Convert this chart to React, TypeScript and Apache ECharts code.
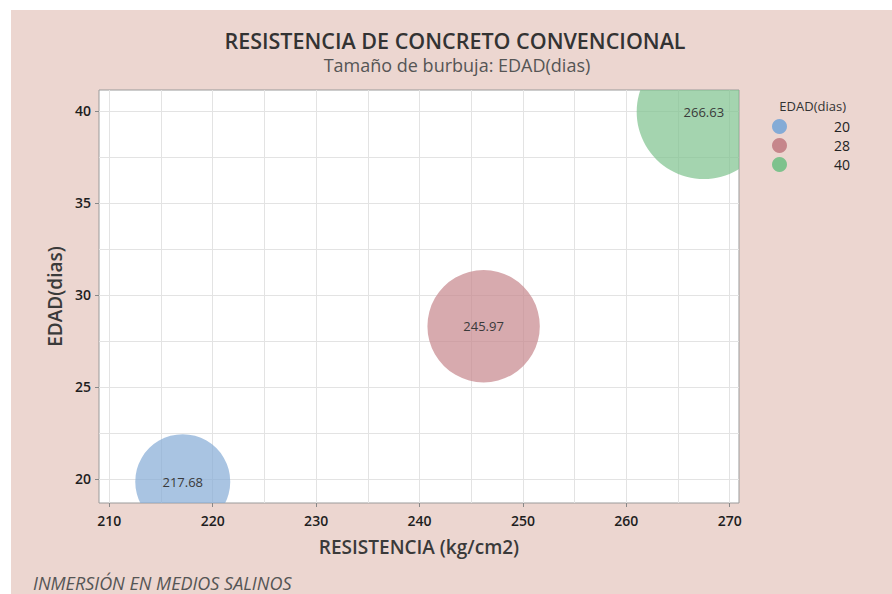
import React, { useEffect, useRef } from "react";
import * as echarts from "echarts";

// ---- data ----
const categories = ["20", "28", "40"]; // EDAD(dias) groups
const resistencia = [217.1, 246.2, 267.5]; // x values (kg/cm2)
const edadY = [19.85, 28.3, 39.95]; // y values (dias)
const edadSize = [20, 28, 40]; // bubble size variable
const etiquetas = ["217.68", "245.97", "266.63"]; // bubble labels
const colores = ["#84abd6", "#c6868b", "#7ec28d"];
const xTicks = [210, 220, 230, 240, 250, 260, 270];
const yTicks = [20, 25, 30, 35, 40];
const xMinor = [210, 215, 220, 225, 230, 235, 240, 245, 250, 255, 260, 265, 270];
const yMinor = [20, 22.5, 25, 27.5, 30, 32.5, 35, 37.5, 40];

const FONT = "'Open Sans', 'Noto Sans', sans-serif";

export default function App() {
  const ref = useRef<HTMLDivElement>(null);
  useEffect(() => {
    if (!ref.current) return;
    const chart = echarts.init(ref.current, undefined, { renderer: "svg" });
    const isXTick = (v: number) => xTicks.some((t) => Math.abs(t - v) < 1e-6);
    const isYTick = (v: number) => yTicks.some((t) => Math.abs(t - v) < 1e-6);
    const xMin = 209, xMax = 270.9, yMin = 18.69, yMax = 41.14;
    const sizeK = 21.24;

    const series = categories.map((c, i) => ({
      type: "custom",
      name: c,
      xAxisIndex: 0,
      yAxisIndex: 0,
      clip: true,
      data: [[resistencia[i], edadY[i], edadSize[i]]],
      itemStyle: { color: colores[i] },
      renderItem: (params: any, api: any) => {
        const p = api.coord([api.value(0), api.value(1)]);
        const r = (sizeK * Math.sqrt(api.value(2))) / 2;
        return {
          type: "group",
          children: [
            {
              type: "circle",
              shape: { cx: p[0], cy: p[1], r },
              style: { fill: colores[i], opacity: 0.7 },
            },
            {
              type: "text",
              x: p[0],
              y: p[1],
              style: {
                text: etiquetas[i],
                align: "center",
                verticalAlign: "middle",
                fill: "#3a3a3a",
                fontSize: 13,
                fontFamily: FONT,
              },
            },
          ],
        };
      },
    }));

    chart.setOption({
      animation: false,
      textStyle: { fontFamily: FONT },
      grid: {
        left: 99,
        right: 153,
        top: 90,
        bottom: 91,
        show: true,
        backgroundColor: "#ffffff",
        borderColor: "#9a9a9a",
        borderWidth: 1,
      },
      legend: {
        data: categories,
        orient: "vertical",
        left: 767,
        top: 114,
        itemWidth: 15,
        itemHeight: 15,
        itemGap: 4,
        icon: "circle",
        itemStyle: { opacity: 1 },
        formatter: "{v|{name}}",
        textStyle: {
          rich: { v: { width: 58, align: "right", fontSize: 14, color: "#222", fontFamily: FONT } },
        },
      },
      xAxis: [
        {
          type: "value",
          min: xMin,
          max: xMax,
          splitNumber: 6,
          minInterval: 10,
          maxInterval: 10,
          name: "RESISTENCIA (kg/cm2)",
          nameLocation: "middle",
          nameGap: 34,
          nameTextStyle: { fontSize: 19, color: "#3a3a3a", fontWeight: 600, fontFamily: FONT },
          axisLine: { show: false },
          axisTick: { show: true, length: 4, lineStyle: { color: "#888" }, customValues: xTicks },
          axisLabel: {
            fontSize: 14,
            fontWeight: 600,
            color: "#1e1e1e",
            margin: 10,
            customValues: xTicks,
            formatter: (v: number) => (isXTick(v) ? String(Math.round(v)) : ""),
          },
          splitLine: { show: false },
        },
        {
          type: "value",
          min: xMin,
          max: xMax,
          splitNumber: 12,
          minInterval: 5,
          maxInterval: 5,
          position: "bottom",
          axisLine: { show: false },
          axisTick: { show: false, customValues: xMinor },
          axisLabel: { show: false },
          splitLine: { show: true, lineStyle: { color: "#e3e3e3" } },
        },
      ],
      yAxis: [
        {
          type: "value",
          min: yMin,
          max: yMax,
          splitNumber: 4,
          minInterval: 5,
          maxInterval: 5,
          name: "EDAD(dias)",
          nameLocation: "middle",
          nameGap: 35,
          nameTextStyle: { fontSize: 19, color: "#3a3a3a", fontWeight: 600, fontFamily: FONT },
          axisLine: { show: false },
          axisTick: { show: true, length: 4, lineStyle: { color: "#888" }, customValues: yTicks },
          axisLabel: {
            fontSize: 14,
            fontWeight: 600,
            color: "#1e1e1e",
            margin: 8,
            customValues: yTicks,
            formatter: (v: number) => (isYTick(v) ? String(Math.round(v)) : ""),
          },
          splitLine: { show: false },
        },
        {
          type: "value",
          min: yMin,
          max: yMax,
          splitNumber: 9,
          minInterval: 2.5,
          maxInterval: 2.5,
          position: "left",
          axisLine: { show: false },
          axisTick: { show: false, customValues: yMinor },
          axisLabel: { show: false },
          splitLine: { show: true, lineStyle: { color: "#e3e3e3" } },
        },
      ],
      graphic: [
        {
          type: "text",
          x: 455,
          y: 40,
          style: {
            text: "RESISTENCIA DE CONCRETO CONVENCIONAL",
            align: "center",
            verticalAlign: "middle",
            fontSize: 21.5,
            fontWeight: 600,
            fill: "#333",
            fontFamily: FONT,
          },
        },
        {
          type: "text",
          x: 457,
          y: 65,
          style: {
            text: "Tamaño de burbuja: EDAD(dias)",
            align: "center",
            verticalAlign: "middle",
            fontSize: 18,
            fill: "#555",
            fontFamily: FONT,
          },
        },
        {
          type: "text",
          x: 846,
          y: 106,
          style: {
            text: "EDAD(dias)",
            align: "right",
            verticalAlign: "middle",
            fontSize: 13,
            fill: "#333",
            fontFamily: FONT,
          },
        },
        {
          type: "text",
          x: 33,
          y: 583,
          style: {
            text: "INMERSIÓN EN MEDIOS SALINOS",
            verticalAlign: "middle",
            fontSize: 18,
            fontStyle: "italic",
            fill: "#555",
            fontFamily: FONT,
          },
        },
      ],
      series,
    });
    return () => chart.dispose();
  }, []);

  return (
    <div style={{ position: "fixed", left: 0, top: 0, width: 892, height: 594, background: "#fff" }}>
      <div
        style={{ position: "absolute", left: 11, top: 10, width: 881, height: 584, background: "#ecd6d0" }}
      />
      <div ref={ref} style={{ position: "absolute", left: 0, top: 0, width: 892, height: 594 }} />
    </div>
  );
}
